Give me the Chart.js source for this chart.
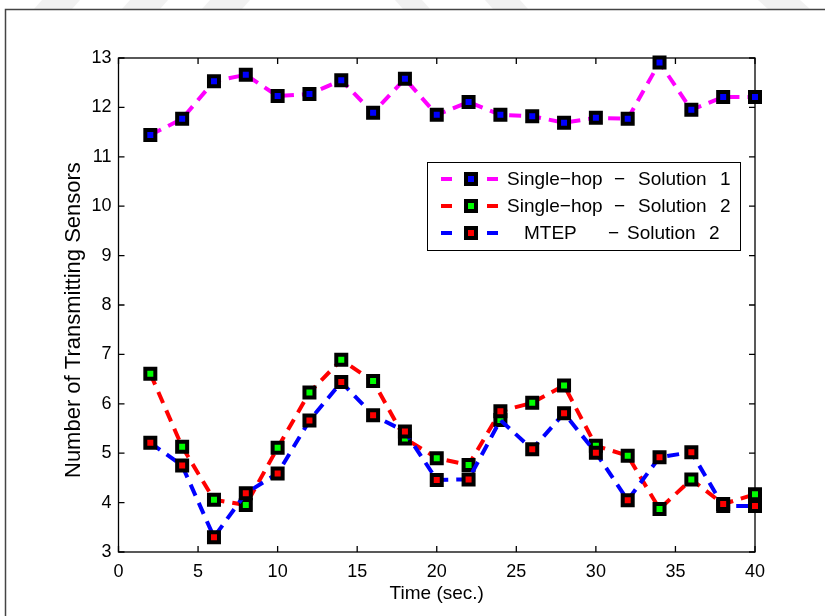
<!DOCTYPE html>
<html>
<head>
<meta charset="utf-8">
<script src="https://cdn.jsdelivr.net/npm/chart.js@4/dist/chart.umd.min.js"></script>
<style>
  body { margin: 0; background: #fff; }
  canvas { display: block; }
</style>
</head>
<body>
<canvas id="myChart" width="825" height="616"></canvas>
<script>
// time axis (sec.)
const times = [2, 4, 6, 8, 10, 12, 14, 16, 18, 20, 22, 24, 26, 28, 30, 32, 34, 36, 38, 40];

// marker values
const singleHop1 = [11.44, 11.77, 12.53, 12.66, 12.23, 12.27, 12.55, 11.89, 12.58, 11.85,
                    12.11, 11.85, 11.82, 11.69, 11.79, 11.77, 12.91, 11.95, 12.21, 12.21];
const singleHop2 = [6.61, 5.13, 4.06, 3.95, 5.11, 6.23, 6.89, 6.46, 5.30, 4.90,
                    4.76, 5.67, 6.02, 6.37, 5.15, 4.95, 3.87, 4.47, 3.93, 4.17];
const mtep       = [5.21, 4.75, 3.30, 4.19, 4.59, 5.66, 6.44, 5.77, 5.44, 4.46,
                    4.47, 5.85, 5.08, 5.81, 5.01, 4.05, 4.92, 5.02, 3.97, 3.93];

// the dashed lines follow the markers except at t=24 where they cross over
const singleHop2Line = [6.61, 5.13, 4.06, 3.95, 5.11, 6.23, 6.89, 6.46, 5.30, 4.90,
                        4.76, 5.85, 6.02, 6.37, 5.15, 4.95, 3.87, 4.47, 3.97, 4.17];
const mtepLine       = [5.21, 4.75, 3.30, 4.19, 4.59, 5.66, 6.44, 5.77, 5.44, 4.46,
                        4.47, 5.67, 5.08, 5.81, 5.01, 4.05, 4.92, 5.02, 3.93, 3.93];

const xTicks = [0, 5, 10, 15, 20, 25, 30, 35, 40];
const yTicks = [3, 4, 5, 6, 7, 8, 9, 10, 11, 12, 13];

const yTitle = 'Number of Transmitting Sensors';

const legendRows = [
  { line: '#ff00ff', fill: '#0000ff', parts: [['Single\u2212hop', 507], ['\u2212', 614], ['Solution', 638], ['1', 720]] },
  { line: '#ff0000', fill: '#00ff00', parts: [['Single\u2212hop', 507], ['\u2212', 614], ['Solution', 638], ['2', 720]] },
  { line: '#0000ff', fill: '#ff0000', parts: [['MTEP', 524], ['\u2212', 608], ['Solution', 627], ['2', 709]] }
];

const FONT = '"Liberation Sans", Arial, Helvetica, sans-serif';

function pts(values) {
  return values.map((v, i) => ({ x: times[i], y: v }));
}

function lineSet(values, color, order) {
  return {
    data: pts(values),
    borderColor: color,
    borderWidth: 4,
    borderDash: [12, 8],
    pointRadius: 0,
    tension: 0,
    fill: false,
    clip: false,
    order: order
  };
}

function markerSet(values, color, order) {
  return {
    data: pts(values),
    showLine: false,
    pointStyle: 'rect',
    pointRadius: 7.07,
    pointHoverRadius: 7.07,
    pointBorderWidth: 4,
    pointBorderColor: '#000',
    pointBackgroundColor: color,
    clip: false,
    order: order
  };
}

function drawMarker(ctx, x, y, color) {
  ctx.fillStyle = color;
  ctx.strokeStyle = '#000';
  ctx.lineWidth = 4;
  ctx.fillRect(x - 5, y - 5, 10, 10);
  ctx.strokeRect(x - 5, y - 5, 10, 10);
}

const figure = {
  id: 'figure',
  beforeDraw(chart) {
    const ctx = chart.ctx;
    ctx.save();
    ctx.fillStyle = '#fff';
    ctx.fillRect(0, 0, chart.width, chart.height);
    // faint watermark pieces along the top edge
    ctx.fillStyle = '#f1f1f1';
    const marks = [[42, 80, -8], [130, 168, -8], [210, 250, -8], [395, 422, 8], [485, 520, 8], [758, 800, 10]];
    marks.forEach(m => {
      ctx.beginPath();
      ctx.moveTo(m[0], 0);
      ctx.lineTo(m[1], 0);
      ctx.lineTo(m[1] + m[2], 9);
      ctx.lineTo(m[0] + m[2], 9);
      ctx.closePath();
      ctx.fill();
    });
    // page frame
    ctx.strokeStyle = '#444';
    ctx.lineWidth = 1.5;
    ctx.beginPath();
    ctx.moveTo(825, 9.5);
    ctx.lineTo(5.5, 9.5);
    ctx.lineTo(5.5, 616);
    ctx.stroke();
    ctx.restore();
  },
  beforeDatasetsDraw(chart) {
    const { ctx, chartArea: a, scales } = chart;
    ctx.save();
    ctx.strokeStyle = '#000';
    ctx.lineWidth = 1.3;
    ctx.strokeRect(a.left, a.top, a.right - a.left, a.bottom - a.top);
    ctx.beginPath();
    const tl = 6;
    xTicks.forEach(v => {
      const px = scales.x.getPixelForValue(v);
      ctx.moveTo(px, a.bottom); ctx.lineTo(px, a.bottom - tl);
      ctx.moveTo(px, a.top); ctx.lineTo(px, a.top + tl);
    });
    yTicks.forEach(v => {
      const py = scales.y.getPixelForValue(v);
      ctx.moveTo(a.left, py); ctx.lineTo(a.left + tl, py);
      ctx.moveTo(a.right, py); ctx.lineTo(a.right - tl, py);
    });
    ctx.stroke();
    ctx.restore();
  },
  afterDraw(chart) {
    const ctx = chart.ctx;
    ctx.save();
    // y axis title, placed as in the original figure
    ctx.save();
    ctx.translate(80, 478);
    ctx.rotate(-Math.PI / 2);
    ctx.fillStyle = '#000';
    ctx.font = '22px ' + FONT;
    ctx.textAlign = 'left';
    ctx.textBaseline = 'alphabetic';
    ctx.fillText(yTitle, 0, 0);
    ctx.restore();
    // legend box
    ctx.fillStyle = '#fff';
    ctx.fillRect(427, 162, 313, 88);
    ctx.strokeStyle = '#000';
    ctx.lineWidth = 1;
    ctx.strokeRect(427.5, 162.5, 313, 88);
    legendRows.forEach((row, i) => {
      const y = 179 + i * 27;
      ctx.strokeStyle = row.line;
      ctx.lineWidth = 4;
      ctx.beginPath();
      ctx.moveTo(441, y); ctx.lineTo(452, y);
      ctx.moveTo(487, y); ctx.lineTo(498, y);
      ctx.stroke();
      drawMarker(ctx, 471, y, row.fill);
      ctx.fillStyle = '#000';
      ctx.font = '19px ' + FONT;
      ctx.textBaseline = 'middle';
      row.parts.forEach(p => ctx.fillText(p[0], p[1], y + 1));
    });
    ctx.restore();
  }
};

const ctx = document.getElementById('myChart');

new Chart(ctx, {
  type: 'line',
  data: {
    datasets: [
      lineSet(singleHop1, '#ff00ff', 6),
      markerSet(singleHop1, '#0000ff', 5),
      lineSet(singleHop2Line, '#ff0000', 4),
      markerSet(singleHop2, '#00ff00', 3),
      lineSet(mtepLine, '#0000ff', 2),
      markerSet(mtep, '#ff0000', 1)
    ]
  },
  options: {
    responsive: false,
    animation: false,
    devicePixelRatio: 1,
    events: [],
    layout: { padding: { top: 58, right: 70, left: 0, bottom: 0 } },
    plugins: {
      legend: { display: false },
      tooltip: { enabled: false }
    },
    scales: {
      x: {
        type: 'linear',
        min: 0,
        max: 40,
        afterBuildTicks: s => { s.ticks = xTicks.map(v => ({ value: v })); },
        afterFit: s => { s.height = 64; },
        grid: { display: false, drawTicks: false },
        border: { display: false },
        ticks: { color: '#000', padding: 9, font: { family: FONT, size: 18 } },
        title: {
          display: true,
          text: 'Time (sec.)',
          color: '#000',
          font: { family: FONT, size: 19 },
          padding: { top: 0, bottom: 10.5 }
        }
      },
      y: {
        min: 3,
        max: 13,
        afterBuildTicks: s => { s.ticks = yTicks.map(v => ({ value: v })); },
        afterFit: s => { s.width = 118.5; },
        grid: { display: false, drawTicks: false },
        border: { display: false },
        ticks: { color: '#000', padding: 7, font: { family: FONT, size: 18 } },
        title: { display: false }
      }
    }
  },
  plugins: [figure]
});
</script>
</body>
</html>
